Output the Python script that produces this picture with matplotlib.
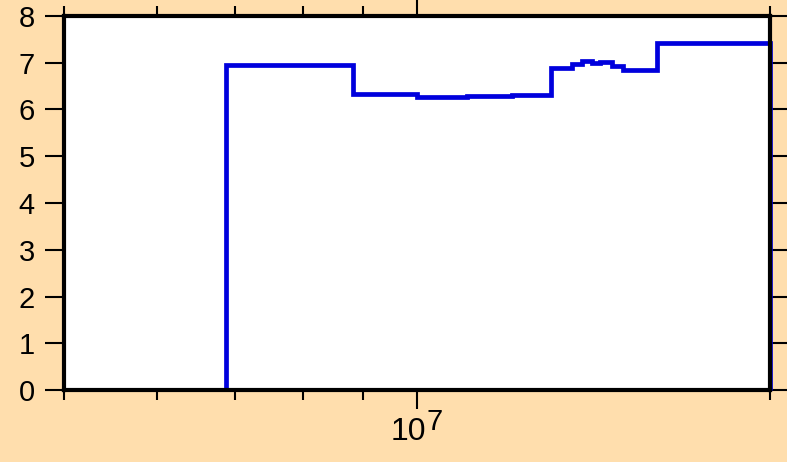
import matplotlib.pyplot as plt
import matplotlib.ticker as mticker
import numpy as np

plt.rcParams['font.family'] = ['Liberation Sans', 'DejaVu Sans']

# bin edges (x, log scale) and step heights
edges = [6.87e6, 7.79e6, 8.82e6, 1.0e7, 1.103e7, 1.205e7, 1.301e7, 1.356e7,
         1.383e7, 1.410e7, 1.433e7, 1.467e7, 1.499e7, 1.602e7, 1.70e7, 2.0e7]
values = [6.96, 6.95, 6.33, 6.27, 6.29, 6.31, 6.88, 6.97,
          7.04, 6.99, 7.02, 6.92, 6.85, 7.43, 7.42]
yticks = [0, 1, 2, 3, 4, 5, 6, 7, 8]
xlabel_pos = 1e7

bg = '#ffdead'
fig = plt.figure(figsize=(7.87, 4.62), dpi=100, facecolor=bg)
ax = fig.add_axes([0.0813, 0.1558, 0.8971, 0.8096])
ax.set_facecolor('white')

ax.stairs(values, edges, baseline=0, color='#0000dd', linewidth=3.4, clip_on=False, zorder=3)

ax.set_xscale('log')
ax.set_xlim(5e6, 2e7)
ax.set_ylim(0, 8)

# x ticks: only 10^7 labelled (written by hand below, big superscript)
ax.xaxis.set_major_locator(mticker.FixedLocator([xlabel_pos]))
ax.xaxis.set_major_formatter(mticker.NullFormatter())
ax.xaxis.set_minor_locator(mticker.LogLocator(base=10, subs=np.arange(2, 10)))
ax.xaxis.set_minor_formatter(mticker.NullFormatter())
ax.set_yticks(yticks)

ax.annotate('10', xy=(xlabel_pos, 0), xycoords=('data', 'axes fraction'),
            xytext=(-9, -27), textcoords='offset pixels', ha='center', va='top',
            fontsize=23, annotation_clip=False)
ax.annotate('7', xy=(xlabel_pos, 0), xycoords=('data', 'axes fraction'),
            xytext=(10, -18), textcoords='offset pixels', ha='left', va='top',
            fontsize=21, annotation_clip=False)

for s in ax.spines.values():
    s.set_linewidth(3)
    s.set_zorder(4)

ax.tick_params(axis='x', which='major', direction='out', length=14, width=1.5,
               top=True, bottom=True)
ax.tick_params(axis='x', which='minor', direction='out', length=7, width=1.5,
               top=True, bottom=True)
ax.tick_params(axis='y', which='major', direction='out', length=14, width=1.5,
               left=True, right=True, labelsize=21, pad=7)
ax.yaxis.set_tick_params(which='major', labelright=False)

fig.savefig('out.png', dpi=100, facecolor=bg)
